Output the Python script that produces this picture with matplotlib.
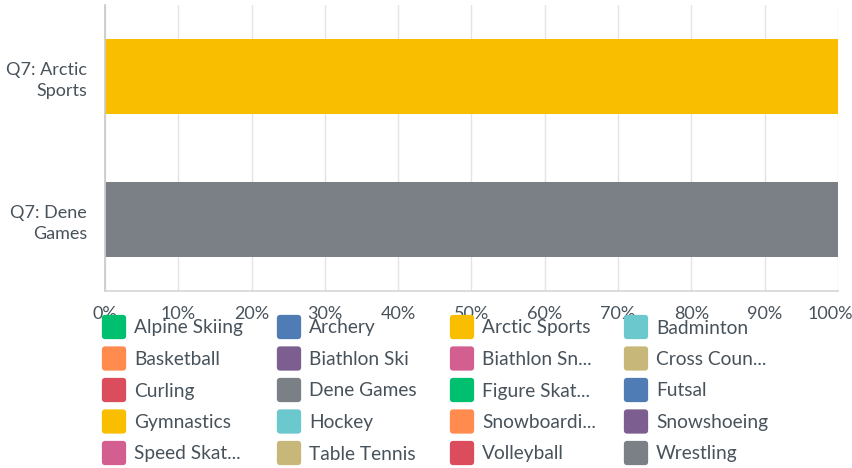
import matplotlib
matplotlib.use("Agg")
import matplotlib.pyplot as plt
import matplotlib.transforms as mtransforms
from matplotlib.patches import FancyBboxPatch

plt.rcParams['font.family'] = ['Lato', 'DejaVu Sans']

# data
questions = ['Q7: Arctic\nSports', 'Q7: Dene\nGames']
series = ['Alpine Skiing', 'Archery', 'Arctic Sports', 'Badminton',
          'Basketball', 'Biathlon Ski', 'Biathlon Snowshoe', 'Cross Country Skiing',
          'Curling', 'Dene Games', 'Figure Skating', 'Futsal',
          'Gymnastics', 'Hockey', 'Snowboarding', 'Snowshoeing',
          'Speed Skating', 'Table Tennis', 'Volleyball', 'Wrestling']
legend_labels = ['Alpine Skiing', 'Archery', 'Arctic Sports', 'Badminton',
                 'Basketball', 'Biathlon Ski', 'Biathlon Sn...', 'Cross Coun...',
                 'Curling', 'Dene Games', 'Figure Skat...', 'Futsal',
                 'Gymnastics', 'Hockey', 'Snowboardi...', 'Snowshoeing',
                 'Speed Skat...', 'Table Tennis', 'Volleyball', 'Wrestling']
colors = ['#00bf6f', '#507cb6', '#f9be00', '#6bc8cd',
          '#ff8b4f', '#7d5e90', '#d25f90', '#c7b879',
          '#db4d5c', '#7a8086', '#00bf6f', '#507cb6',
          '#f9be00', '#6bc8cd', '#ff8b4f', '#7d5e90',
          '#d25f90', '#c7b879', '#db4d5c', '#7a8086']
# percent of responses per question for each series
values = {s: [0, 0] for s in series}
values['Arctic Sports'] = [100, 0]
values['Dene Games'] = [0, 100]
xticks = list(range(0, 101, 10))

txt = '#48525b'

fig = plt.figure(figsize=(8.53, 4.68), dpi=100)
ax = fig.add_axes([105/853, 1-291/468, 733/853, 286/468])

ypos = list(range(len(questions)))
left = [0, 0]
for s, c in zip(series, colors):
    v = values[s]
    ax.barh(ypos, v, left=left, height=0.525, color=c, zorder=2)
    left = [a + b for a, b in zip(left, v)]

ax.set_xlim(0, 100)
ax.set_ylim(1.5, -0.5)
ax.set_xticks(xticks)
ax.set_xticklabels(['%d%%' % t for t in xticks], fontsize=13, color=txt)
ax.set_yticks(ypos)
ax.set_yticklabels(questions, fontsize=13, color=txt, linespacing=1.4)
ax.tick_params(axis='both', length=0)
ax.tick_params(axis='x', pad=11)
ax.tick_params(axis='y', pad=13)
ax.grid(axis='x', color='#e4e4e4', lw=1, zorder=0)
ax.set_axisbelow(True)
for sp in ['top', 'right']:
    ax.spines[sp].set_visible(False)
ax.spines['left'].set_color('#cccccc')
ax.spines['left'].set_linewidth(1.3)
ax.spines['bottom'].set_color('#d5d5d5')
ax.spines['bottom'].set_linewidth(1.2)

# last tick label pulled in so it fits the figure
last = ax.get_xticklabels()[-1]
last.set_transform(last.get_transform() +
                   mtransforms.ScaledTranslation(-8/100, 0, fig.dpi_scale_trans))

# legend, row-major, 4 columns
col_x = [102, 277, 450, 624]
row_y = [327, 358.5, 390, 421.5, 453]
W, H = 853, 468
sw = 24
for i, (lab, c) in enumerate(zip(legend_labels, colors)):
    r, k = divmod(i, 4)
    x0 = col_x[k]
    yc = row_y[r]
    p = FancyBboxPatch(((x0 + 2) / W, 1 - (yc + sw/2 - 2) / H), (sw - 4) / W, (sw - 4) / H,
                       boxstyle='round,pad=0.0025,rounding_size=0.004',
                       transform=fig.transFigure, facecolor=c, edgecolor='none',
                       mutation_aspect=W/H)
    fig.patches.append(p)
    fig.text((x0 + 32) / W, 1 - (yc + 1) / H, lab, fontsize=13.8, color=txt,
             va='center', ha='left')

fig.savefig('out.png', dpi=100)
